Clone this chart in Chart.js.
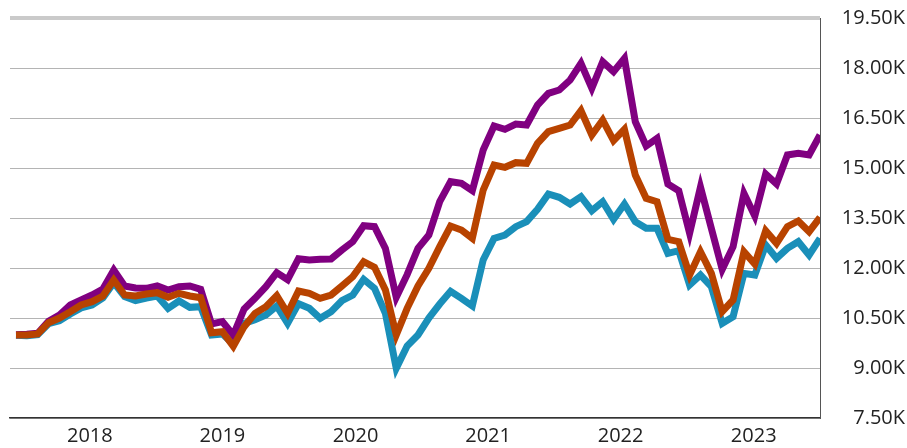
<!DOCTYPE html>
<html>
<head>
<meta charset="utf-8">
<title>Growth chart</title>
<script src="https://cdn.jsdelivr.net/npm/chart.js@4/dist/chart.umd.min.js"></script>
<style>
  body { margin: 0; background: #fff; }
  .chart-box { width: 907px; height: 448px; }
</style>
</head>
<body>
<div class="chart-box"><canvas id="growthChart"></canvas></div>
<script>
// year labels and where they sit on the month axis
const years = ['2018', '2019', '2020', '2021', '2022', '2023'];
const yearPos = [6.8, 19.0, 31.25, 43.45, 55.65, 67.9];

// y axis ticks
const yTicks = [7500, 9000, 10500, 12000, 13500, 15000, 16500, 18000, 19500];

// monthly values (75 months)
const purpleSeries = [
    10000, 10010, 10040, 10400, 10590, 10890, 11040, 11190, 11370, 11940,
    11460, 11400, 11390, 11460, 11340, 11440, 11460, 11360, 10320, 10390,
    9990, 10770, 11090, 11440, 11860, 11650, 12280, 12240, 12260, 12270,
    12540, 12790, 13270, 13240, 12590, 11120, 11800, 12590, 12990, 13990,
    14590, 14540, 14320, 15540, 16260, 16160, 16320, 16290, 16890, 17240,
    17340, 17640, 18140, 17390, 18190, 17890, 18290, 16390, 15660, 15890,
    14520, 14320, 13040, 14430, 13190, 11960, 12640, 14240, 13560, 14820,
    14520, 15390, 15440, 15390, 15990
];
const orangeSeries = [
    9990, 9990, 10020, 10360, 10500, 10690, 10890, 10990, 11160, 11640,
    11190, 11160, 11220, 11260, 11120, 11240, 11160, 11110, 10060, 10090,
    9650, 10240, 10640, 10840, 11170, 10640, 11310, 11240, 11090, 11190,
    11460, 11740, 12190, 12020, 11340, 9990, 10790, 11460, 11990, 12640,
    13260, 13140, 12890, 14340, 15090, 15020, 15160, 15140, 15740, 16090,
    16190, 16290, 16720, 15990, 16440, 15820, 16160, 14790, 14090, 13990,
    12860, 12790, 11790, 12490, 11840, 10690, 11040, 12490, 12120, 13120,
    12740, 13240, 13410, 13090, 13520
];
const tealSeries = [
    9980, 9970, 10000, 10330, 10420, 10620, 10800, 10890, 11100, 11560,
    11140, 11020, 11100, 11160, 10790, 11010, 10820, 10840, 9990, 10020,
    9720, 10340, 10450, 10590, 10860, 10340, 10930, 10790, 10490, 10690,
    11020, 11190, 11660, 11390, 10640, 8990, 9660, 9990, 10500, 10920,
    11300, 11090, 10860, 12240, 12890, 12990, 13240, 13390, 13760, 14220,
    14120, 13920, 14140, 13720, 13990, 13460, 13920, 13390, 13190, 13190,
    12440, 12520, 11490, 11790, 11440, 10340, 10540, 11840, 11790, 12690,
    12290, 12590, 12790, 12390, 12890
];

// index -> {x, y}
function toPoints(values) {
    return values.map((v, i) => ({ x: i, y: v }));
}

function lineSet(label, values, color) {
    return {
        label: label,
        data: toPoints(values),
        borderColor: color,
        borderWidth: 7,
        pointRadius: 0,
        tension: 0,
        fill: false
    };
}

window.onload = function() {
    const ctx = document.getElementById('growthChart').getContext('2d');

    // dataset 0 is drawn on top
    const datasets = [
        lineSet('Orange', orangeSeries, '#b84300'),
        lineSet('Purple', purpleSeries, '#800080'),
        lineSet('Teal', tealSeries, '#1a8fb9')
    ];

    new Chart(ctx, {
        type: 'line',
        data: { datasets: datasets },
        options: {
            responsive: true,
            maintainAspectRatio: false,
            animation: false,
            layout: { padding: { left: 10, right: 2, top: 18, bottom: 0 } },
            plugins: {
                legend: { display: false },
                tooltip: { enabled: false }
            },
            scales: {
                x: {
                    type: 'linear',
                    min: -0.55,
                    max: purpleSeries.length - 1,
                    afterBuildTicks: function(scale) {
                        scale.ticks = yearPos.map(v => ({ value: v }));
                    },
                    afterFit: function(scale) {
                        scale.height = 30; // 軸の高さを固定
                    },
                    ticks: {
                        autoSkip: false,
                        maxRotation: 0,
                        padding: 6,
                        color: '#222',
                        font: { family: '"Open Sans", sans-serif', size: 20 },
                        callback: function(value, index) {
                            return years[index];
                        }
                    },
                    grid: { display: false, drawTicks: false },
                    border: { display: true, color: '#333', width: 1.5 }
                },
                y: {
                    position: 'right',
                    min: yTicks[0],
                    max: yTicks[yTicks.length - 1],
                    afterBuildTicks: function(scale) {
                        scale.ticks = yTicks.map(v => ({ value: v }));
                    },
                    afterFit: function(scale) {
                        // 右軸の幅を固定、ラベル余白が上下に効かないようにする
                        scale.width = 85;
                        scale.paddingTop = 12;
                        scale.paddingBottom = 12;
                    },
                    ticks: {
                        padding: 22,
                        crossAlign: 'far',
                        color: '#222',
                        font: { family: '"Open Sans", sans-serif', size: 20 },
                        callback: function(value) {
                            return (value / 1000).toFixed(2) + 'K';
                        }
                    },
                    grid: {
                        drawTicks: false,
                        color: c => c.tick && c.tick.value === 19500 ? '#cacaca' : '#b4b4b4',
                        lineWidth: c => c.tick && c.tick.value === 19500 ? 4 : 1
                    },
                    border: { display: true, color: '#555', width: 1 }
                }
            }
        }
    });
};
</script>
</body>
</html>
